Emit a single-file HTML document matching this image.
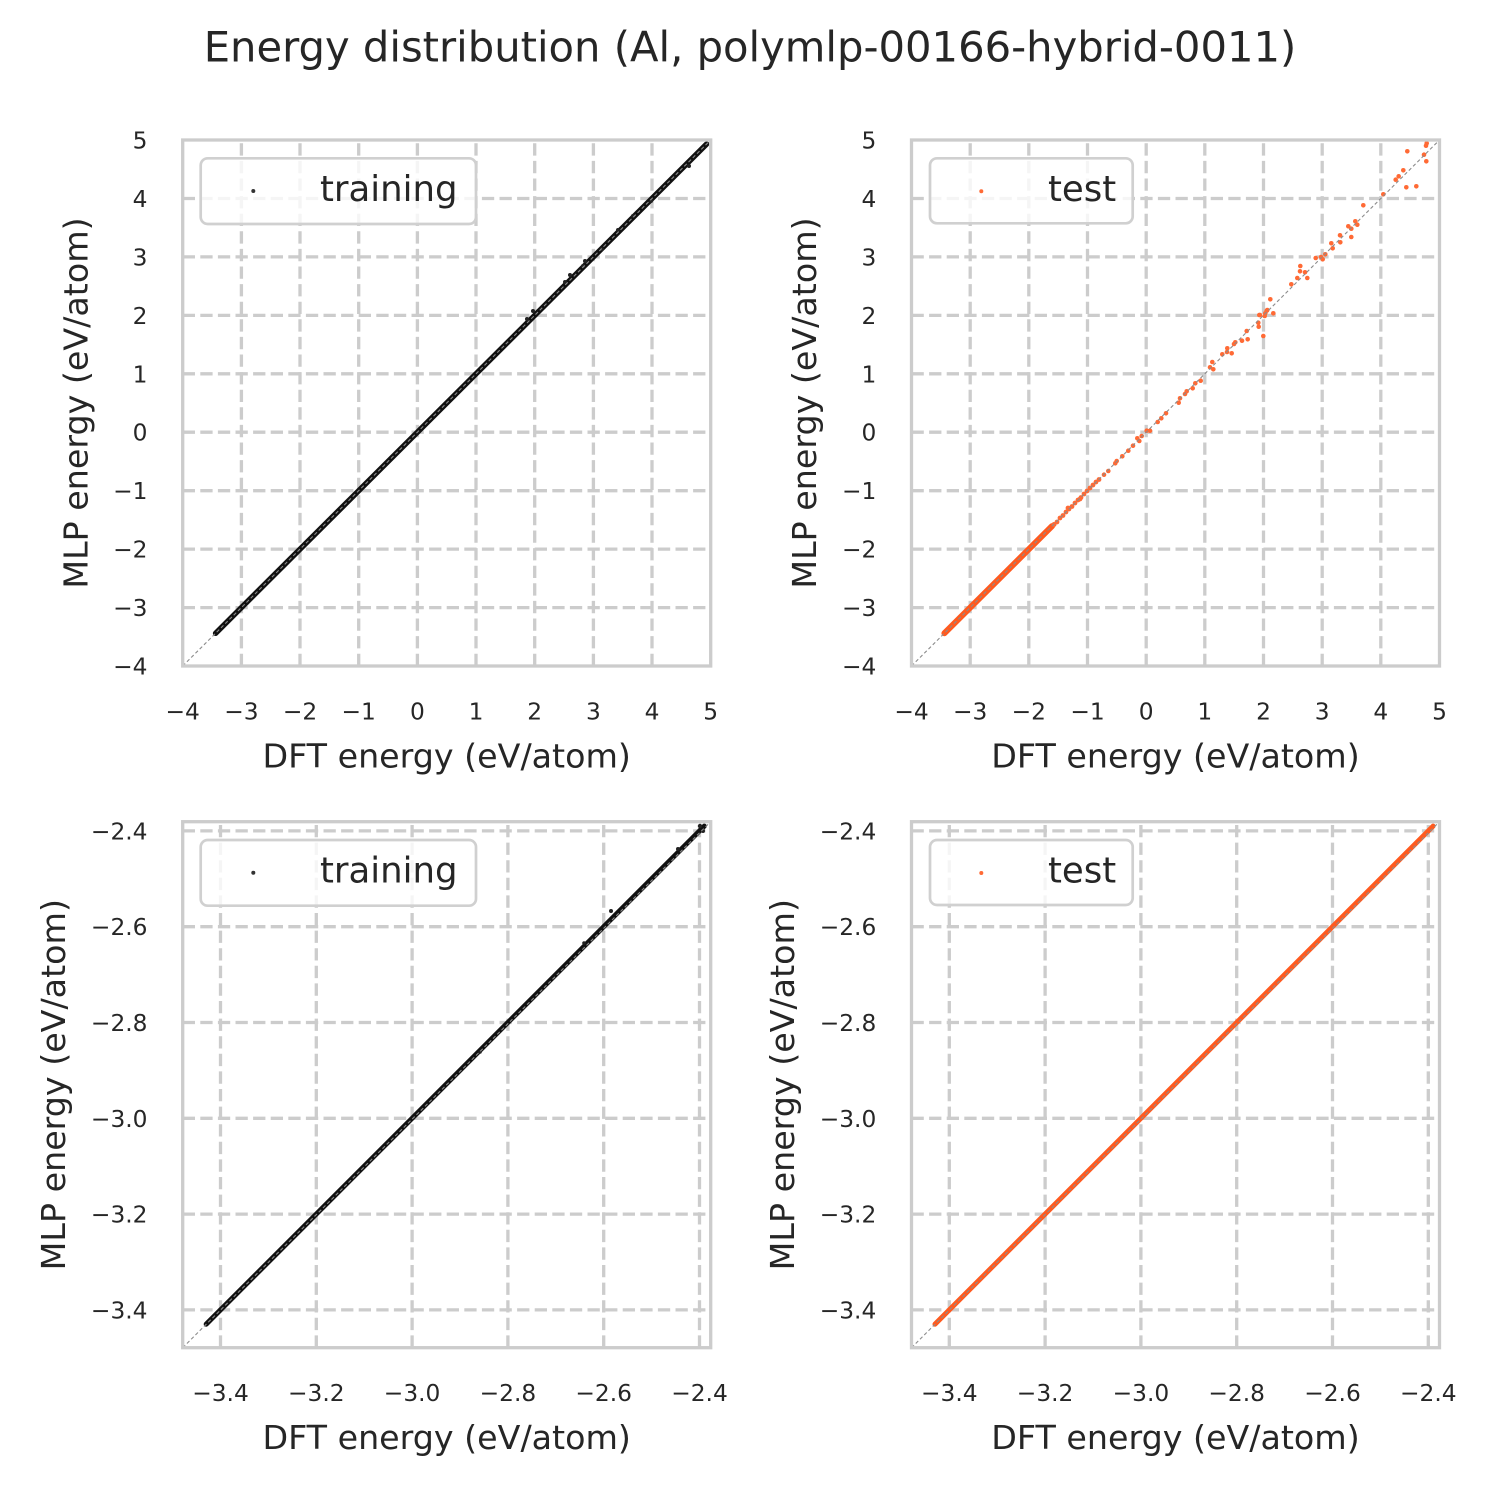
<!DOCTYPE html>
<html><head><meta charset="utf-8"><style>
html,body{margin:0;padding:0;background:#fff}
svg{display:block}
text{font-family:"DejaVu Sans","Liberation Sans",sans-serif;fill:#262626}
.tk{font-size:23.3px}
.al{font-size:33.3px}
.lg{font-size:35.5px}
.g{stroke:#cccccc;stroke-width:3.3;stroke-dasharray:12.3 5.3;fill:none}
.sp{stroke:#cccccc;stroke-width:3.3;fill:none}
.dg{stroke:#8c8c8c;stroke-width:1.1;stroke-dasharray:3.5 2.5;fill:none}
.leg{fill:#fff;fill-opacity:0.8;stroke:#d0d0d0;stroke-width:2.7}
.o circle{fill:#ff6a35}
.k circle{fill:#222}
</style></head><body>
<svg width="1500" height="1500" viewBox="0 0 1500 1500" xmlns="http://www.w3.org/2000/svg">
<rect width="1500" height="1500" fill="#fff"/>
<text x="750" y="61.7" text-anchor="middle" style="font-size:41.7px">Energy distribution (Al, polymlp-00166-hybrid-0011)</text>

<!-- ============ TOP LEFT ============ -->
<g>
<g class="g">
<line x1="241.4" y1="666" x2="241.4" y2="140"/><line x1="300" y1="666" x2="300" y2="140"/><line x1="358.7" y1="666" x2="358.7" y2="140"/><line x1="417.4" y1="666" x2="417.4" y2="140"/><line x1="476" y1="666" x2="476" y2="140"/><line x1="534.7" y1="666" x2="534.7" y2="140"/><line x1="593.4" y1="666" x2="593.4" y2="140"/><line x1="652" y1="666" x2="652" y2="140"/>
<line x1="182.7" y1="607.6" x2="710.7" y2="607.6"/><line x1="182.7" y1="549.1" x2="710.7" y2="549.1"/><line x1="182.7" y1="490.7" x2="710.7" y2="490.7"/><line x1="182.7" y1="432.2" x2="710.7" y2="432.2"/><line x1="182.7" y1="373.8" x2="710.7" y2="373.8"/><line x1="182.7" y1="315.4" x2="710.7" y2="315.4"/><line x1="182.7" y1="256.9" x2="710.7" y2="256.9"/><line x1="182.7" y1="198.5" x2="710.7" y2="198.5"/>
</g>
<line x1="215.6" y1="633.3" x2="706.6" y2="144.1" stroke="#111" stroke-width="5.5" stroke-linecap="round"/>
<g class="k">
<circle cx="527" cy="319" r="2"/><circle cx="533" cy="311" r="2"/><circle cx="565" cy="282" r="2"/><circle cx="583" cy="266" r="2"/><circle cx="602" cy="249" r="2"/><circle cx="618" cy="230" r="2"/><circle cx="651" cy="201" r="2"/><circle cx="689" cy="166" r="2"/><circle cx="585" cy="261" r="2"/><circle cx="633" cy="216" r="2"/><circle cx="570" cy="275" r="2"/>
</g>
<line class="dg" x1="182.7" y1="666" x2="710.7" y2="140"/>
<rect class="sp" x="182.7" y="140" width="528" height="526"/>
<rect class="leg" x="200.7" y="158.3" width="275.3" height="65.7" rx="7"/>
<circle cx="253.3" cy="191" r="2" fill="#333"/>
<text class="lg" x="320" y="201">training</text>
<g class="tk" text-anchor="middle">
<text x="182.7" y="719.5">−4</text><text x="241.4" y="719.5">−3</text><text x="300" y="719.5">−2</text><text x="358.7" y="719.5">−1</text><text x="417.4" y="719.5">0</text><text x="476" y="719.5">1</text><text x="534.7" y="719.5">2</text><text x="593.4" y="719.5">3</text><text x="652" y="719.5">4</text><text x="710.7" y="719.5">5</text>
</g>
<g class="tk" text-anchor="end">
<text x="147.5" y="148.5">5</text><text x="147.5" y="207">4</text><text x="147.5" y="265.4">3</text><text x="147.5" y="323.9">2</text><text x="147.5" y="382.3">1</text><text x="147.5" y="440.7">0</text><text x="147.5" y="499.2">−1</text><text x="147.5" y="557.6">−2</text><text x="147.5" y="616.1">−3</text><text x="147.5" y="674.5">−4</text>
</g>
<text class="al" x="446.7" y="767.5" text-anchor="middle">DFT energy (eV/atom)</text>
<text class="al" transform="translate(87.3,403) rotate(-90)" text-anchor="middle">MLP energy (eV/atom)</text>
</g>

<!-- ============ TOP RIGHT ============ -->
<g>
<g class="g">
<line x1="970.2" y1="666" x2="970.2" y2="140"/><line x1="1028.8" y1="666" x2="1028.8" y2="140"/><line x1="1087.5" y1="666" x2="1087.5" y2="140"/><line x1="1146.2" y1="666" x2="1146.2" y2="140"/><line x1="1204.8" y1="666" x2="1204.8" y2="140"/><line x1="1263.5" y1="666" x2="1263.5" y2="140"/><line x1="1322.2" y1="666" x2="1322.2" y2="140"/><line x1="1380.8" y1="666" x2="1380.8" y2="140"/>
<line x1="911.5" y1="607.6" x2="1439.5" y2="607.6"/><line x1="911.5" y1="549.1" x2="1439.5" y2="549.1"/><line x1="911.5" y1="490.7" x2="1439.5" y2="490.7"/><line x1="911.5" y1="432.2" x2="1439.5" y2="432.2"/><line x1="911.5" y1="373.8" x2="1439.5" y2="373.8"/><line x1="911.5" y1="315.4" x2="1439.5" y2="315.4"/><line x1="911.5" y1="256.9" x2="1439.5" y2="256.9"/><line x1="911.5" y1="198.5" x2="1439.5" y2="198.5"/>
</g>
<line x1="944.4" y1="633.3" x2="1052" y2="526.1" stroke="#ff5a1f" stroke-width="6" stroke-linecap="round"/>
<g class="o">
<circle cx="1054" cy="524.5" r="2.5"/><circle cx="1057" cy="522" r="2.4"/><circle cx="1060" cy="518" r="2.4"/><circle cx="1063" cy="515.5" r="2.4"/><circle cx="1066" cy="512" r="2.4"/><circle cx="1069" cy="509" r="2.4"/><circle cx="1072" cy="506.5" r="2.4"/><circle cx="1075" cy="503" r="2.4"/><circle cx="1078" cy="500" r="2.4"/><circle cx="1081" cy="497.5" r="2.4"/><circle cx="1084" cy="494" r="2.4"/><circle cx="1087" cy="491" r="2.4"/><circle cx="1090" cy="488" r="2.4"/><circle cx="1093" cy="485" r="2.4"/><circle cx="1096" cy="482" r="2.4"/><circle cx="1099" cy="479.5" r="2.4"/><circle cx="1068" cy="508" r="2.4"/><circle cx="1080" cy="499" r="2.4"/>
<circle cx="1104" cy="474.7" r="2.3"/><circle cx="1108.3" cy="471" r="2.3"/><circle cx="1115.3" cy="463.3" r="2.3"/><circle cx="1116.7" cy="461" r="2.3"/><circle cx="1122.3" cy="456.3" r="2.3"/><circle cx="1128.3" cy="450.7" r="2.3"/><circle cx="1133" cy="445.7" r="2.3"/><circle cx="1139.3" cy="441" r="2.3"/><circle cx="1137.3" cy="438.3" r="2.3"/><circle cx="1141.7" cy="436" r="2.3"/><circle cx="1146.7" cy="430.7" r="2.3"/><circle cx="1150" cy="430.7" r="2.3"/><circle cx="1157.7" cy="422" r="2.3"/><circle cx="1161.3" cy="418.3" r="2.3"/><circle cx="1166" cy="413.3" r="2.3"/><circle cx="1178.7" cy="402.7" r="2.3"/><circle cx="1180" cy="398.3" r="2.3"/><circle cx="1185" cy="394" r="2.3"/><circle cx="1186.7" cy="391.3" r="2.3"/><circle cx="1192.7" cy="388.3" r="2.3"/><circle cx="1195.3" cy="383.3" r="2.3"/><circle cx="1200.7" cy="380.7" r="2.3"/><circle cx="1210" cy="367.3" r="2.3"/><circle cx="1212.3" cy="362" r="2.3"/><circle cx="1213.3" cy="369.3" r="2.3"/><circle cx="1222.3" cy="354.3" r="2.3"/><circle cx="1227" cy="352" r="2.3"/><circle cx="1227.3" cy="348.3" r="2.3"/><circle cx="1231.7" cy="353.3" r="2.3"/><circle cx="1234" cy="344" r="2.3"/><circle cx="1235.3" cy="342.3" r="2.3"/><circle cx="1242" cy="340.7" r="2.3"/><circle cx="1246.7" cy="331" r="2.3"/><circle cx="1247.7" cy="339.3" r="2.3"/><circle cx="1258.3" cy="322.7" r="2.3"/><circle cx="1258.7" cy="326.7" r="2.3"/><circle cx="1259.3" cy="315" r="2.3"/><circle cx="1260" cy="315" r="2.3"/><circle cx="1263.3" cy="336" r="2.3"/><circle cx="1264.7" cy="316" r="2.3"/><circle cx="1265.3" cy="313.3" r="2.3"/><circle cx="1266.7" cy="310.7" r="2.3"/><circle cx="1267.3" cy="310" r="2.3"/><circle cx="1270.3" cy="299.3" r="2.3"/><circle cx="1273.3" cy="313.3" r="2.3"/>
<circle cx="1291.3" cy="284.3" r="2.3"/><circle cx="1297.3" cy="278" r="2.3"/><circle cx="1307.3" cy="278" r="2.3"/><circle cx="1300" cy="271.3" r="2.3"/><circle cx="1305" cy="272.3" r="2.3"/><circle cx="1300.3" cy="266" r="2.3"/><circle cx="1315.7" cy="258" r="2.3"/><circle cx="1321" cy="257" r="2.3"/><circle cx="1322.7" cy="259.3" r="2.3"/><circle cx="1325.3" cy="254.3" r="2.3"/><circle cx="1332.7" cy="248.3" r="2.3"/><circle cx="1331.3" cy="243.3" r="2.3"/><circle cx="1340.3" cy="242.3" r="2.3"/><circle cx="1340" cy="235.3" r="2.3"/><circle cx="1351.3" cy="237" r="2.3"/><circle cx="1348.3" cy="226.3" r="2.3"/><circle cx="1351.3" cy="228.7" r="2.3"/><circle cx="1355.3" cy="221.3" r="2.3"/><circle cx="1357.3" cy="224.7" r="2.3"/><circle cx="1363.3" cy="205.3" r="2.3"/><circle cx="1383.3" cy="194.3" r="2.3"/><circle cx="1406.3" cy="187.3" r="2.3"/><circle cx="1416.3" cy="186.3" r="2.3"/><circle cx="1395.7" cy="179.7" r="2.3"/><circle cx="1398.7" cy="176.3" r="2.3"/><circle cx="1403.3" cy="170.3" r="2.3"/><circle cx="1426.3" cy="161.3" r="2.3"/><circle cx="1424" cy="154.7" r="2.3"/><circle cx="1407.3" cy="151.3" r="2.3"/><circle cx="1426" cy="145.7" r="2.3"/><circle cx="1426.7" cy="143.3" r="2.3"/>
</g>
<line class="dg" x1="911.5" y1="666" x2="1439.5" y2="140"/>
<rect class="sp" x="911.5" y="140" width="528" height="526"/>
<rect class="leg" x="930" y="158.3" width="202.7" height="65" rx="7"/>
<circle cx="981.3" cy="191.3" r="2" fill="#ff6a35"/>
<text class="lg" x="1048" y="201">test</text>
<g class="tk" text-anchor="middle">
<text x="911.5" y="719.5">−4</text><text x="970.2" y="719.5">−3</text><text x="1028.8" y="719.5">−2</text><text x="1087.5" y="719.5">−1</text><text x="1146.2" y="719.5">0</text><text x="1204.8" y="719.5">1</text><text x="1263.5" y="719.5">2</text><text x="1322.2" y="719.5">3</text><text x="1380.8" y="719.5">4</text><text x="1439.5" y="719.5">5</text>
</g>
<g class="tk" text-anchor="end">
<text x="876.3" y="148.5">5</text><text x="876.3" y="207">4</text><text x="876.3" y="265.4">3</text><text x="876.3" y="323.9">2</text><text x="876.3" y="382.3">1</text><text x="876.3" y="440.7">0</text><text x="876.3" y="499.2">−1</text><text x="876.3" y="557.6">−2</text><text x="876.3" y="616.1">−3</text><text x="876.3" y="674.5">−4</text>
</g>
<text class="al" x="1175.5" y="767.5" text-anchor="middle">DFT energy (eV/atom)</text>
<text class="al" transform="translate(816.1,403) rotate(-90)" text-anchor="middle">MLP energy (eV/atom)</text>
</g>

<!-- ============ BOTTOM LEFT ============ -->
<g>
<g class="g">
<line x1="220.5" y1="1347.7" x2="220.5" y2="821.7"/><line x1="316.3" y1="1347.7" x2="316.3" y2="821.7"/><line x1="412.1" y1="1347.7" x2="412.1" y2="821.7"/><line x1="507.9" y1="1347.7" x2="507.9" y2="821.7"/><line x1="603.7" y1="1347.7" x2="603.7" y2="821.7"/><line x1="699.5" y1="1347.7" x2="699.5" y2="821.7"/>
<line x1="182.7" y1="1309.9" x2="710.7" y2="1309.9"/><line x1="182.7" y1="1214.1" x2="710.7" y2="1214.1"/><line x1="182.7" y1="1118.3" x2="710.7" y2="1118.3"/><line x1="182.7" y1="1022.5" x2="710.7" y2="1022.5"/><line x1="182.7" y1="926.7" x2="710.7" y2="926.7"/><line x1="182.7" y1="830.9" x2="710.7" y2="830.9"/>
</g>
<line x1="206.2" y1="1324.2" x2="704.3" y2="826.1" stroke="#111" stroke-width="5" stroke-linecap="round"/>
<g class="k">
<circle cx="611" cy="911" r="2"/><circle cx="584" cy="943" r="1.8"/><circle cx="700" cy="826" r="2.2"/><circle cx="703" cy="831" r="2"/><circle cx="678" cy="849" r="2"/><circle cx="480" cy="1052" r="1.8"/>
</g>
<line class="dg" x1="182.7" y1="1347.7" x2="710.7" y2="821.7"/>
<rect class="sp" x="182.7" y="821.7" width="528" height="526"/>
<rect class="leg" x="200.7" y="840" width="275.3" height="65.7" rx="7"/>
<circle cx="253.3" cy="872.7" r="2" fill="#333"/>
<text class="lg" x="320" y="882.7">training</text>
<g class="tk" text-anchor="middle">
<text x="220.5" y="1401.2">−3.4</text><text x="316.3" y="1401.2">−3.2</text><text x="412.1" y="1401.2">−3.0</text><text x="507.9" y="1401.2">−2.8</text><text x="603.7" y="1401.2">−2.6</text><text x="699.5" y="1401.2">−2.4</text>
</g>
<g class="tk" text-anchor="end">
<text x="147.5" y="839.4">−2.4</text><text x="147.5" y="935.2">−2.6</text><text x="147.5" y="1031">−2.8</text><text x="147.5" y="1126.8">−3.0</text><text x="147.5" y="1222.6">−3.2</text><text x="147.5" y="1318.4">−3.4</text>
</g>
<text class="al" x="446.7" y="1449" text-anchor="middle">DFT energy (eV/atom)</text>
<text class="al" transform="translate(65,1084.7) rotate(-90)" text-anchor="middle">MLP energy (eV/atom)</text>
</g>

<!-- ============ BOTTOM RIGHT ============ -->
<g>
<g class="g">
<line x1="949.3" y1="1347.7" x2="949.3" y2="821.7"/><line x1="1045.1" y1="1347.7" x2="1045.1" y2="821.7"/><line x1="1140.9" y1="1347.7" x2="1140.9" y2="821.7"/><line x1="1236.7" y1="1347.7" x2="1236.7" y2="821.7"/><line x1="1332.5" y1="1347.7" x2="1332.5" y2="821.7"/><line x1="1428.3" y1="1347.7" x2="1428.3" y2="821.7"/>
<line x1="911.5" y1="1309.9" x2="1439.5" y2="1309.9"/><line x1="911.5" y1="1214.1" x2="1439.5" y2="1214.1"/><line x1="911.5" y1="1118.3" x2="1439.5" y2="1118.3"/><line x1="911.5" y1="1022.5" x2="1439.5" y2="1022.5"/><line x1="911.5" y1="926.7" x2="1439.5" y2="926.7"/><line x1="911.5" y1="830.9" x2="1439.5" y2="830.9"/>
</g>
<line x1="935" y1="1324.2" x2="1433.1" y2="826.1" stroke="#ff5a1f" stroke-width="5" stroke-linecap="round"/>
<line class="dg" x1="911.5" y1="1347.7" x2="1439.5" y2="821.7"/>
<rect class="sp" x="911.5" y="821.7" width="528" height="526"/>
<rect class="leg" x="930" y="840" width="202.7" height="65" rx="7"/>
<circle cx="981.3" cy="873" r="2" fill="#ff6a35"/>
<text class="lg" x="1048" y="882.7">test</text>
<g class="tk" text-anchor="middle">
<text x="949.3" y="1401.2">−3.4</text><text x="1045.1" y="1401.2">−3.2</text><text x="1140.9" y="1401.2">−3.0</text><text x="1236.7" y="1401.2">−2.8</text><text x="1332.5" y="1401.2">−2.6</text><text x="1428.3" y="1401.2">−2.4</text>
</g>
<g class="tk" text-anchor="end">
<text x="876.3" y="839.4">−2.4</text><text x="876.3" y="935.2">−2.6</text><text x="876.3" y="1031">−2.8</text><text x="876.3" y="1126.8">−3.0</text><text x="876.3" y="1222.6">−3.2</text><text x="876.3" y="1318.4">−3.4</text>
</g>
<text class="al" x="1175.5" y="1449" text-anchor="middle">DFT energy (eV/atom)</text>
<text class="al" transform="translate(793.8,1084.7) rotate(-90)" text-anchor="middle">MLP energy (eV/atom)</text>
</g>
</svg>
</body></html>
